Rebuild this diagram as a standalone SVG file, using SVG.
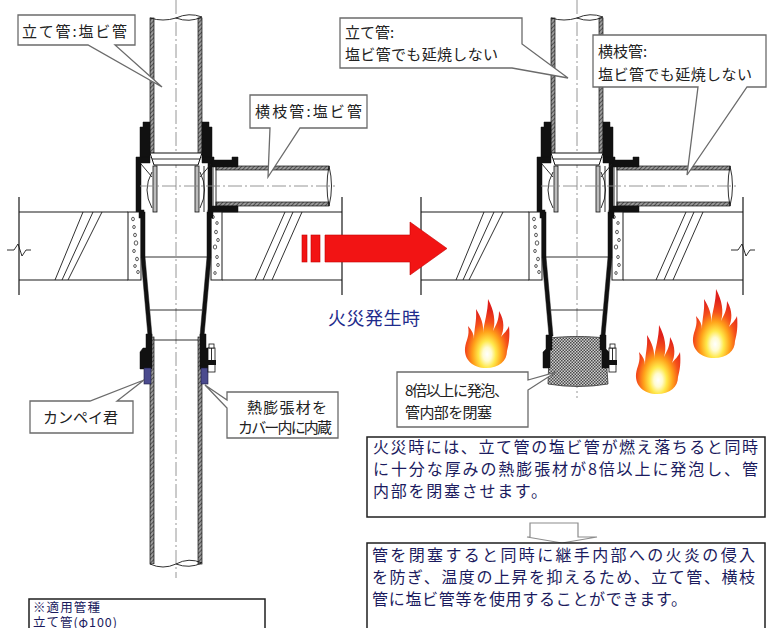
<svg xmlns="http://www.w3.org/2000/svg" width="769" height="628" viewBox="0 0 769 628">
<style>
  .ln{stroke:#1a1a1a;stroke-width:1.2;fill:none}
  .thin{stroke:#1a1a1a;stroke-width:0.9;fill:none}
  .blk{fill:#111;stroke:#111;stroke-width:0.5}
  .wall{fill:url(#wallHatch);stroke:#111;stroke-width:0.7}
  .cl{stroke:#8a8a8a;stroke-width:0.9;stroke-dasharray:14 3 2 3;fill:none}
  .block{fill:#fff;stroke:#1a1a1a;stroke-width:1}
  .dot{fill:#fff;stroke:#333;stroke-width:0.8}
  .call{fill:#fff;stroke:#6b6b6b;stroke-width:1.3;stroke-linejoin:miter}
  .ct{font-family:"Noto Sans CJK JP","Noto Sans",sans-serif;fill:#222;font-size:15px}
  .bt{font-family:"Noto Sans CJK JP",sans-serif;fill:#1b1b5e;font-size:16px}
  .box{fill:#fff;stroke:#1f1f1f;stroke-width:1.5}
  .bolt{fill:#fff;stroke:#111;stroke-width:0.8}
  .blue{fill:#4b4b8e;stroke:#1c1c40;stroke-width:0.6}
</style>
<defs>
  <pattern id="wallHatch" width="3" height="3" patternUnits="userSpaceOnUse" patternTransform="rotate(45)">
    <rect width="3" height="3" fill="#9a9a9a"/>
    <line x1="0" y1="0" x2="0" y2="3" stroke="#333" stroke-width="1.4"/>
  </pattern>
  <pattern id="foam" width="3" height="3" patternUnits="userSpaceOnUse">
    <rect width="3" height="3" fill="#cfcfcf"/>
    <rect width="1.5" height="1.5" fill="#4a4a4a"/>
    <rect x="1.5" y="1.5" width="1.5" height="1.5" fill="#4a4a4a"/>
  </pattern>
  <radialGradient id="flameGrad" cx="0.5" cy="0.8" r="0.65">
    <stop offset="0" stop-color="#ffffff"/>
    <stop offset="0.15" stop-color="#fffbd0"/>
    <stop offset="0.3" stop-color="#ffe84a"/>
    <stop offset="0.5" stop-color="#ffa31a"/>
    <stop offset="0.72" stop-color="#f5501a"/>
    <stop offset="1" stop-color="#e0201a"/>
  </radialGradient>
  <path id="flame" fill="url(#flameGrad)" d="M24,70 C11,70 2,62 3,50 C4,42 8,38 6,28 C10,32 12,37 12,41 C12,31 15,22 14,11 C19,19 22,27 21,35 C22,25 26,14 26,1 C32,12 34,24 31,33 C34,27 37,22 37,13 C43,23 42,32 39,39 C42,35 45,33 47,28 C48,38 47,46 45,53 C45,63 37,70 24,70 Z"/>

  <!-- joint body with stack pipe, branch pipe and fire-resistant sleeve -->
  <g id="jointBody">
    <!-- upper stack pipe -->
    <rect class="wall" x="150" y="18" width="4" height="136"/>
    <rect class="wall" x="198" y="18" width="4" height="136"/>
    <path class="thin" d="M150,18 Q163,22 176,18 M176,18 Q189,12 202,17 M176,18 Q189,23 202,17"/>
    <!-- socket collar -->
    <path class="blk" d="M143,122 H150 V158 H140 V127 H143 Z"/>
    <path class="blk" d="M202,122 H209 V127 H212 V158 H202 Z"/>
    <!-- pipe end ring -->
    <path d="M150,153 H202 L198,165 H154 Z" fill="#fff" stroke="#111" stroke-width="1"/>
    <line class="thin" x1="152" y1="159" x2="200" y2="159"/>
    <!-- shell -->
    <path class="blk" d="M136,157 H150 V163 H141 V212 H136 Z"/>
    <path class="blk" d="M202,157 H214 V163 H202 Z"/>
    <rect class="blk" x="208" y="163" width="4" height="49"/>
    <!-- inner sleeves and gaskets -->
    <rect x="153" y="166" width="4" height="46" fill="#bbb" stroke="#111" stroke-width="0.8"/>
    <rect x="195" y="166" width="4" height="46" fill="#bbb" stroke="#111" stroke-width="0.8"/>
    <path class="thin" d="M141,164 L152,177 M152,172 Q142,190 152,208 M211,164 L200,177 M200,172 Q209,190 200,208 M204,166 V212"/>
    <!-- branch pipe -->
    <rect class="wall" x="216" y="166" width="113" height="4"/>
    <rect class="wall" x="216" y="202" width="113" height="4"/>
    <path class="blk" d="M212,160 H232 V157 H238 V167 H212 Z"/>
    <path class="blk" d="M212,206 H238 V212 H212 Z"/>
    <line class="thin" x1="213" y1="167" x2="213" y2="206"/>
    <line class="thin" x1="216" y1="167" x2="216" y2="206"/>
    <path class="thin" d="M329,166 Q334,186 329,206 M329,166 Q325,186 329,206"/>
    <path class="cl" d="M140,186 H336"/>
    <!-- fire-resistant sleeve in slab -->
    <rect class="block" x="128" y="212" width="13" height="68"/>
    <rect class="block" x="211" y="212" width="11" height="68"/>
    <g class="dot">
      <ellipse cx="133" cy="219" rx="1.4" ry="1.8"/>
      <ellipse cx="134" cy="227" rx="1.3" ry="1.6"/>
      <ellipse cx="135" cy="235" rx="1.4" ry="1.8"/>
      <ellipse cx="136" cy="243" rx="1.8" ry="2.2"/>
      <ellipse cx="134" cy="251" rx="1.3" ry="1.6"/>
      <ellipse cx="137" cy="259" rx="1.4" ry="1.8"/>
      <ellipse cx="135" cy="266" rx="1.3" ry="1.5"/>
      <ellipse cx="138" cy="272" rx="1.3" ry="1.6"/>
      <ellipse cx="213" cy="217" rx="1.3" ry="1.6"/>
      <ellipse cx="217" cy="223" rx="1.2" ry="1.5"/>
      <ellipse cx="216" cy="232" rx="1.4" ry="1.8"/>
      <ellipse cx="218" cy="240" rx="1.3" ry="1.6"/>
      <ellipse cx="215" cy="247" rx="1.7" ry="2.1"/>
      <ellipse cx="217" cy="257" rx="1.3" ry="1.6"/>
      <ellipse cx="218" cy="265" rx="1.3" ry="1.6"/>
      <ellipse cx="215" cy="273" rx="1.2" ry="1.5"/>
    </g>
    <rect class="blk" x="139" y="210" width="5" height="8"/>
    <rect class="blk" x="208" y="210" width="5" height="8"/>
    <!-- reducer -->
    <rect class="blk" x="141" y="212" width="4" height="45"/>
    <rect class="blk" x="207" y="212" width="4" height="45"/>
    <path class="blk" d="M141,257 H145 L152,336 H148 Z"/>
    <path class="blk" d="M207,257 H211 L204,336 H200 Z"/>
    <line class="thin" x1="145" y1="257" x2="207" y2="257"/>
    <line class="thin" x1="150" y1="310" x2="202" y2="310"/>
  </g>
</defs>

<rect width="769" height="628" fill="#fff"/>

<!-- floor slabs -->
<g id="slab-left">
  <path class="ln" d="M19,212 H128 M19,280 H128 M222,212 H342 M222,280 H342 M19,197 V295 M342,197 V295"/>
  <path class="thin" d="M7,250 H14 L18,244 L22,256 L26,250 H31"/>
  <path class="thin" d="M55,280 L83,212 M62,280 L93,212 M68,280 L102,212 M255,280 L285,212 M263,280 L293,212 M272,280 L302,212"/>
</g>
<g id="slab-right">
  <path class="ln" d="M421,212 H529 M421,280 H529 M623,212 H743 M623,280 H743 M421,197 V295 M743,197 V295"/>
  <path class="thin" d="M731,250 H738 L742,244 L746,256 L750,250 H755"/>
  <path class="thin" d="M456,280 L484,212 M463,280 L494,212 M469,280 L503,212 M656,280 L686,212 M664,280 L694,212 M673,280 L703,212"/>
</g>

<!-- normal state assembly -->
<g id="joint-normal">
  <path class="cl" d="M176,0 V578"/>
  <use href="#jointBody"/>
  <line class="thin" x1="152" y1="340" x2="200" y2="340"/>
  <rect class="wall" x="150" y="337" width="4" height="227"/>
  <rect class="wall" x="198" y="337" width="4" height="227"/>
  <path d="M150,564 Q163,570 176,564 Q189,569 202,563 L202,564 L150,564 Z" fill="#fff" stroke="none"/>
  <path class="thin" d="M150,564 Q163,570 176,564 M176,564 Q189,557 202,563 M176,564 Q189,569 202,563"/>
  <!-- cover with intumescent material -->
  <path class="blk" d="M146,334 H152 V369 H140 V352 L143,348 H146 Z"/>
  <rect class="blue" x="144" y="368" width="7" height="16"/>
  <path class="blk" d="M206,334 H200 V369 H212 V352 L209,348 H206 Z"/>
  <rect class="blue" x="201" y="368" width="7" height="16"/>
  <rect class="bolt" x="208" y="348" width="7" height="24"/>
  <rect class="bolt" x="209" y="344" width="5" height="4"/>
  <rect x="207" y="360" width="9" height="5" fill="#111"/>
  <line class="thin" x1="211.5" y1="348" x2="211.5" y2="360"/>
</g>

<!-- fire state assembly -->
<g id="joint-fire">
  <path class="cl" d="M577,0 V398"/>
  <use href="#jointBody" x="401"/>
  <path d="M550,338 C565,336 590,336 604,338 L606,356 L608,384 Q578,389 548,384 L549,356 Z" fill="url(#foam)" stroke="#333" stroke-width="0.8"/>
  <path class="blk" d="M546,335 H552 V350 H550 V368 H543 V352 L546,349 Z"/>
  <path class="blk" d="M606,335 H600 V350 H602 V368 H609 V352 L606,349 Z"/>
  <rect class="bolt" x="609" y="348" width="7" height="24"/>
  <rect class="bolt" x="610" y="344" width="5" height="4"/>
  <rect x="608" y="360" width="9" height="5" fill="#111"/>
  <line class="thin" x1="612.5" y1="348" x2="612.5" y2="360"/>
</g>

<!-- flames -->
<g id="flames">
  <use href="#flame" x="462" y="298"/>
  <use href="#flame" x="633" y="324"/>
  <use href="#flame" x="690" y="288"/>
</g>

<!-- transition arrow -->
<g id="arrow-fire" fill="#f21414" stroke="#c40000" stroke-width="0.6">
  <rect x="302" y="235" width="5" height="27"/>
  <rect x="311" y="235" width="9" height="27"/>
  <path d="M325,235 H410 V222 L447,248.5 L410,275 V262 H325 Z"/>
</g>
<text id="label-fire" x="328" y="325" font-family="'Noto Sans CJK JP',sans-serif" font-size="18" fill="#1e2b8c" textLength="92">火災発生時</text>

<!-- callouts -->
<g id="callout-stack">
  <path class="call" d="M18,15 H135 V45 H115 L162,87 L88,45 H18 Z"/>
  <text class="ct" x="22" y="37" font-size="16" textLength="105">立て管:塩ビ管</text>
</g>
<g id="callout-branch">
  <path class="call" d="M250,95 H367 V128 H300 L268,177 L270,128 H250 Z"/>
  <text class="ct" x="255" y="117" font-size="16" textLength="107">横枝管:塩ビ管</text>
</g>
<g id="callout-kanpei">
  <path class="call" d="M30,401 H90 L144,380 L117,401 H133 V433 H30 Z"/>
  <text class="ct" x="43" y="423" font-size="15.5" textLength="75">カンペイ君</text>
</g>
<g id="callout-material">
  <path class="call" d="M227,392 H338 V438 H227 V408 L205,385 L227,400 Z"/>
  <text class="ct" x="247" y="413" textLength="80">熱膨張材を</text>
  <text class="ct" x="238" y="433" font-size="12.5" textLength="94">カバー内に内蔵</text>
</g>
<g id="callout-stack-fire">
  <path class="call" d="M340,18 H522 V44 L568,78 L512,68 H340 Z"/>
  <text class="ct" x="345" y="38">立て管:</text>
  <text class="ct" x="345" y="60" textLength="153">塩ビ管でも延焼しない</text>
</g>
<g id="callout-branch-fire">
  <path class="call" d="M593,35 H766 V87 H747 L687,175 L698,87 H593 Z"/>
  <text class="ct" x="598" y="57">横枝管:</text>
  <text class="ct" x="598" y="80" textLength="154">塩ビ管でも延焼しない</text>
</g>
<g id="callout-foam">
  <path class="call" d="M397,372 H528 V380 L556,372 L528,390 V427 H397 Z"/>
  <text class="ct" x="405" y="396" textLength="104">8倍以上に発泡、</text>
  <text class="ct" x="405" y="418" textLength="87">管内部を閉塞</text>
</g>

<!-- explanation boxes -->
<g id="note-1">
  <rect class="box" x="367" y="437" width="398" height="80"/>
  <text class="bt" x="373" y="453" textLength="385">火災時には、立て管の塩ビ管が燃え落ちると同時</text>
  <text class="bt" x="373" y="475" textLength="385">に十分な厚みの熱膨張材が8倍以上に発泡し、管</text>
  <text class="bt" x="373" y="497" textLength="174">内部を閉塞させます。</text>
</g>
<g id="arrow-down">
  <path d="M530,523 H578 V537 H597 L562,543 L527,537 H530 Z" fill="#fff" stroke="#8c8c8c" stroke-width="1.2"/>
</g>
<g id="note-2">
  <rect class="box" x="367" y="543" width="398" height="100"/>
  <text class="bt" x="372" y="561" textLength="383">管を閉塞すると同時に継手内部への火炎の侵入</text>
  <text class="bt" x="372" y="583" textLength="383">を防ぎ、温度の上昇を抑えるため、立て管、横枝</text>
  <text class="bt" x="372" y="605" textLength="315">管に塩ビ管等を使用することができます。</text>
</g>
<g id="note-types">
  <rect class="box" x="29" y="599" width="236" height="40" stroke-width="1.3"/>
  <text x="33" y="611.5" font-family="'Noto Sans CJK JP',sans-serif" font-size="12.5" fill="#1b1b5e" textLength="67">※適用管種</text>
  <text x="33" y="627" font-family="'Noto Sans CJK JP',sans-serif" font-size="12.5" fill="#1b1b5e" textLength="84">立て管(φ100)</text>
</g>
</svg>
